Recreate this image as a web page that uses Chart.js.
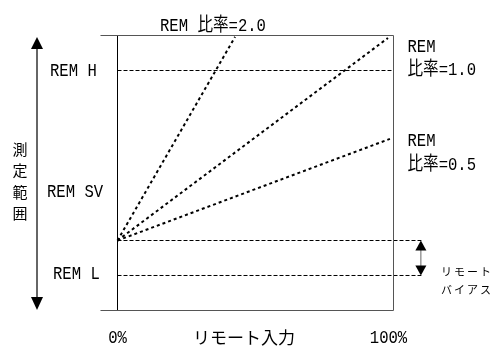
<!DOCTYPE html>
<html>
<head>
<meta charset="utf-8">
<script src="https://cdn.jsdelivr.net/npm/chart.js@4.4.0/dist/chart.umd.min.js"></script>
<style>
  body { margin: 0; background: #fff; }
</style>
</head>
<body>
<canvas id="remCanvas" width="493" height="352"></canvas>
<script>
// データ（％・測定範囲の相対値）
const xTicks = ['0%', '100%'];
const xRange = [0, 100];
const yRange = [0, 100];
const levelLabels = ['REM H', 'REM SV', 'REM L'];
const levelValues = [87.27, 43.1, 12.73];
const biasValue = 25.45;
const ratioLabels = ['2.0', '1.0', '0.5'];
const ratioEndX = [42.6, 98.0, 98.7];
const ratioEndY = [99.5, 99.1, 62.4];

const MONO = "19px 'Liberation Mono', 'Noto Sans CJK JP', monospace";

function lineSet(points, color, width, dash) {
    return {
        data: points,
        showLine: true,
        borderColor: color,
        borderWidth: width,
        borderDash: dash || [],
        pointRadius: 0,
        clip: false
    };
}

const datasets = [];
// 枠
datasets.push(lineSet([{x: -6.16, y: yRange[1]}, {x: xRange[1], y: yRange[1]}], '#555', 1));
datasets.push(lineSet([{x: -6.16, y: yRange[0]}, {x: xRange[1], y: yRange[0]}], '#555', 1));
datasets.push(lineSet([{x: xRange[0], y: yRange[0]}, {x: xRange[0], y: yRange[1]}], '#000', 1));
datasets.push(lineSet([{x: xRange[1], y: yRange[0]}, {x: xRange[1], y: yRange[1]}], '#555', 1));
// REM H / バイアス / REM L の破線
datasets.push(lineSet([{x: 0, y: levelValues[0]}, {x: 100, y: levelValues[0]}], '#000', 1, [4, 2]));
datasets.push(lineSet([{x: 0, y: biasValue}, {x: 110.1, y: biasValue}], '#000', 1, [4, 2]));
datasets.push(lineSet([{x: 0, y: levelValues[2]}, {x: 110.1, y: levelValues[2]}], '#000', 1, [4, 2]));
// REM 比率の点線
ratioLabels.forEach(function (r, i) {
    datasets.push(lineSet([{x: 0, y: biasValue}, {x: ratioEndX[i], y: ratioEndY[i]}], '#000', 2, [3, 3]));
});

function arrowHead(ctx, x, tipY, dir, w, h) {
    ctx.beginPath();
    ctx.moveTo(x, tipY);
    ctx.lineTo(x - w / 2, tipY + dir * h);
    ctx.lineTo(x + w / 2, tipY + dir * h);
    ctx.closePath();
    ctx.fill();
}

// 縦長の等幅っぽい文字にする
function narrowText(ctx, text, x, y, align) {
    ctx.save();
    ctx.font = MONO;
    ctx.textAlign = align || 'left';
    ctx.translate(x, y);
    ctx.scale(0.82, 1);
    ctx.fillText(text, 0, 0);
    ctx.restore();
}

const labelPlugin = {
    id: 'labels',
    afterDraw(chart) {
        const ctx = chart.ctx;
        const xs = chart.scales.x, ys = chart.scales.y;
        const area = chart.chartArea;
        ctx.save();
        ctx.fillStyle = '#000';
        ctx.textBaseline = 'middle';

        // 左の測定範囲矢印
        ctx.strokeStyle = '#666';
        ctx.lineWidth = 2;
        ctx.beginPath();
        ctx.moveTo(37, area.top + 10);
        ctx.lineTo(37, area.bottom - 10);
        ctx.stroke();
        arrowHead(ctx, 37, area.top + 1.5, 1, 12, 12);
        arrowHead(ctx, 37, area.bottom - 0.5, -1, 12, 13);

        ctx.font = "15px 'Noto Sans CJK JP'";
        ctx.textAlign = 'center';
        ['測', '定', '範', '囲'].forEach(function (c, i) {
            ctx.fillText(c, 20, 149 + i * 21.5);
        });

        // レベル名
        narrowText(ctx, levelLabels[0], 50, ys.getPixelForValue(levelValues[0]));
        narrowText(ctx, levelLabels[1], 47, ys.getPixelForValue(levelValues[1]));
        narrowText(ctx, levelLabels[2], 53, ys.getPixelForValue(levelValues[2]) - 2);

        // 比率ラベル
        narrowText(ctx, 'REM 比率=' + ratioLabels[0], 160, area.top - 10);
        const rx = area.right + 14;
        narrowText(ctx, 'REM', rx, 47);
        narrowText(ctx, '比率=' + ratioLabels[1], rx, 70);
        narrowText(ctx, 'REM', rx, 141);
        narrowText(ctx, '比率=' + ratioLabels[2], rx, 165);

        // リモートバイアス矢印
        const bx = xs.getPixelForValue(110.1) - 0.5;
        const yb = ys.getPixelForValue(biasValue);
        const yl = ys.getPixelForValue(levelValues[2]);
        ctx.strokeStyle = '#666';
        ctx.lineWidth = 1;
        ctx.beginPath();
        ctx.moveTo(bx, yb + 8);
        ctx.lineTo(bx, yl - 8);
        ctx.stroke();
        ctx.fillStyle = '#000';
        arrowHead(ctx, bx, yb, 1, 11, 10);
        arrowHead(ctx, bx, yl, -1, 11, 10);
        ctx.font = "11px 'Noto Sans CJK JP'";
        ctx.textAlign = 'left';
        ctx.letterSpacing = '2px';
        ctx.fillText('リモート', 441, 272);
        ctx.fillText('バイアス', 441, 290);
        ctx.letterSpacing = '0px';

        // X軸
        narrowText(ctx, xTicks[0], xs.getPixelForValue(xRange[0]), 338, 'center');
        narrowText(ctx, xTicks[1], xs.getPixelForValue(xRange[1]) - 5, 338, 'center');
        ctx.font = "17px 'Noto Sans CJK JP'";
        ctx.textAlign = 'center';
        ctx.fillText('リモート入力', 244, 338);
        ctx.restore();
    }
};

new Chart(document.getElementById('remCanvas').getContext('2d'), {
    type: 'scatter',
    data: { datasets: datasets },
    options: {
        responsive: false,
        animation: false,
        devicePixelRatio: 1,
        layout: { padding: { left: 117.5, top: 35.5, right: 99.5, bottom: 41.5 } },
        plugins: { legend: { display: false }, tooltip: { enabled: false } },
        scales: {
            x: { type: 'linear', min: xRange[0], max: xRange[1], display: false },
            y: { type: 'linear', min: yRange[0], max: yRange[1], display: false }
        }
    },
    plugins: [labelPlugin]
});
</script>
</body>
</html>
